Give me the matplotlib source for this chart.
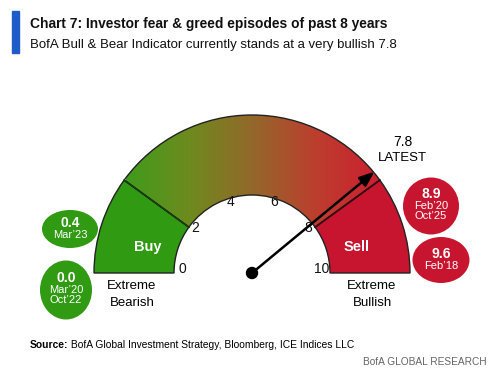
import matplotlib.pyplot as plt
import numpy as np
from matplotlib.patches import Wedge, Ellipse, Rectangle
from matplotlib.colors import LinearSegmentedColormap

plt.rcParams["font.family"] = ["Liberation Sans", "DejaVu Sans"]

# data
ticks = [0, 2, 4, 6, 8, 10]
latest = 7.8
buy_zone = (0, 2)
sell_zone = (8, 10)
episode_values = ["0.4", "0.0", "8.9", "9.6"]
episode_dates = ["Mar\u201923", "Mar\u201920\nOct\u201922", "Feb\u201920\nOct\u201925", "Feb\u201918"]

# layout (pixel units, y up)
W, H = 500, 378
cx, cy = 252, 105
r_out, r_in = 158, 78
green = "#2f9a12"
red = "#c8152f"


def ang(v):
    return 180 - v * 18


fig = plt.figure(figsize=(5, 3.78), dpi=100)
ax = fig.add_axes([0, 0, 1, 1])
ax.set_xlim(0, W)
ax.set_ylim(0, H)
ax.axis("off")

# gradient band
cmap = LinearSegmentedColormap.from_list("fg", ["#3f9c1c", "#6e8a1e", "#93682a", "#bc3e2e", "#cc2030"])
grad = np.linspace(0, 1, 256).reshape(1, -1)
band = Wedge((cx, cy), r_out, ang(sell_zone[0]), ang(buy_zone[1]), width=r_out - r_in,
             facecolor="none", edgecolor="none")
ax.add_patch(band)
im = ax.imshow(grad, cmap=cmap, aspect="auto",
               extent=(cx - r_out * 0.8, cx + r_out * 0.8, cy, cy + r_out), zorder=1)
im.set_clip_path(band)
ax.add_patch(Wedge((cx, cy), r_out, ang(sell_zone[0]), ang(buy_zone[1]), width=r_out - r_in,
                   facecolor="none", edgecolor="#222222", lw=1.0, zorder=3))

# buy / sell zones
ax.add_patch(Wedge((cx, cy), r_out, ang(buy_zone[1]), ang(buy_zone[0]), width=r_out - r_in,
                   facecolor=green, edgecolor="#222222", lw=1.0, zorder=2))
ax.add_patch(Wedge((cx, cy), r_out, ang(sell_zone[1]), ang(sell_zone[0]), width=r_out - r_in,
                   facecolor=red, edgecolor="#222222", lw=1.0, zorder=2))
for v in (buy_zone[1], sell_zone[0]):
    a = np.radians(ang(v))
    ax.plot([cx + r_in * np.cos(a), cx + r_out * np.cos(a)],
            [cy + r_in * np.sin(a), cy + r_out * np.sin(a)], color="#1a3a10" if v < 5 else "#3a0a10",
            lw=1.2, zorder=3)

mid_buy = np.radians(ang(np.mean(buy_zone)))
mid_sell = np.radians(ang(np.mean(sell_zone)))
rm = (r_in + r_out) / 2 - 2
ax.text(cx + rm * np.cos(mid_buy) + 6, cy + rm * np.sin(mid_buy) - 10, "Buy", color="white",
        fontsize=10.5, fontweight="bold", ha="center", va="center", zorder=4)
ax.text(cx + rm * np.cos(mid_sell) - 6, cy + rm * np.sin(mid_sell) - 10, "Sell", color="white",
        fontsize=10.5, fontweight="bold", ha="center", va="center", zorder=4)

# tick labels
for t in ticks:
    a = np.radians(ang(t))
    ax.text(cx + 70 * np.cos(a), cy + 70 * np.sin(a) + 4, str(t), fontsize=10,
            ha="center", va="center", color="#111111")

# needle
a = np.radians(ang(latest))
ax.annotate("", xy=(cx + 159 * np.cos(a), cy + 159 * np.sin(a)), xytext=(cx, cy),
            arrowprops=dict(arrowstyle="-|>,head_length=0.9,head_width=0.35", color="black",
                            lw=1.8, shrinkA=0, shrinkB=0), zorder=5)
ax.add_patch(Ellipse((cx, cy), 11, 11, color="black", zorder=6))
ax.text(403, 236, f"{latest}", fontsize=10, ha="center", va="center")
ax.text(402, 220, "LATEST", fontsize=9.5, ha="center", va="center")

ax.text(132, 92, "Extreme", fontsize=9.5, ha="center", va="center")
ax.text(132, 75, "Bearish", fontsize=9.5, ha="center", va="center")
ax.text(372, 92, "Extreme", fontsize=9.5, ha="center", va="center")
ax.text(372, 75, "Bullish", fontsize=9.5, ha="center", va="center")

# episode bubbles
bubbles = [(70, 149, 56, 38, green), (66, 88, 52, 59, green),
           (431, 172, 56, 57, red), (441, 118, 57, 46, red)]
for (bx, by, bw, bh, col), val, dt in zip(bubbles, episode_values, episode_dates):
    ax.add_patch(Ellipse((bx, by), bw, bh, facecolor=col, edgecolor="none", zorder=2))
    nl = dt.count("\n") + 1
    top = by + 6 * nl
    ax.text(bx, top, val, color="white", fontsize=10, fontweight="bold",
            ha="center", va="center", zorder=3)
    ax.text(bx, top - 7, dt, color="white", fontsize=8, ha="center", va="top",
            linespacing=1.05, zorder=3)

# header
ax.add_patch(Rectangle((12, H - 53), 7, 42, color="#1f5cc8"))
ax.text(30, H - 24, "Chart 7: Investor fear & greed episodes of past 8 years", fontsize=9.9,
        fontweight="bold", ha="left", va="center", color="#111111")
ax.text(30, H - 45, "BofA Bull & Bear Indicator currently stands at a very bullish 7.8", fontsize=9.5,
        ha="left", va="center", color="#111111")

# footer
src = ax.text(30, H - 345, "Source:", fontsize=7.4, fontweight="bold", ha="left", va="center")
ax.annotate(" BofA Global Investment Strategy, Bloomberg, ICE Indices LLC", xycoords=src,
            xy=(1, 0.5), fontsize=7.4, ha="left", va="center")
ax.text(487, H - 362, "BofA GLOBAL RESEARCH", fontsize=7.3, ha="right", va="center", color="#666666")

fig.savefig("out.png", dpi=100)
